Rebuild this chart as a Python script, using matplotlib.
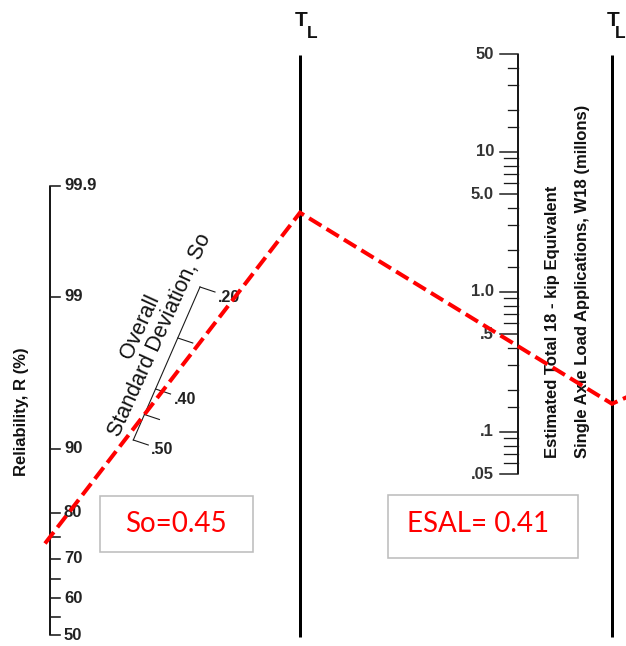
import matplotlib
matplotlib.use("Agg")
from statistics import NormalDist
import numpy as np
import matplotlib.pyplot as plt
from matplotlib.patches import Rectangle

# ---- scale values -------------------------------------------------------
R_LABELED = [50, 60, 70, 80, 90, 99, 99.9]
R_LABEL_TEXT = ["50", "60", "70", "80", "90", "99", "99.9"]
R_MINOR = [55, 65, 75]

SO_TICKS = [0.20, 0.30, 0.40, 0.45, 0.50]
SO_LABELED = [0.20, 0.40, 0.50]
SO_LABEL_TEXT = [".20", ".40", ".50"]

W18_LABELED = [50, 10, 5, 1, 0.5, 0.1, 0.05]
W18_LABEL_TEXT = ["50", "10", "5.0", "1.0", ".5", ".1", ".05"]
W18_DENSE = [9, 8, 7, 6, 0.9, 0.8, 0.7, 0.6, 0.09, 0.08, 0.07, 0.06]
W18_SPARSE = [40, 30, 20, 15, 4, 3, 2, 1.5, 0.4, 0.3, 0.2, 0.15]

# design inputs traced on the chart
R_DESIGN = 75
SO_DESIGN = 0.45
ESAL_DESIGN = 0.41

# ---- figure in pixel units ---------------------------------------------
W, H = 626, 646
fig = plt.figure(figsize=(W / 100, H / 100), dpi=100)
ax = fig.add_axes([0, 0, 1, 1])
ax.set_xlim(0, W)
ax.set_ylim(H, 0)
ax.axis("off")

PT = 0.72  # points per pixel at 100 dpi
NARROW = ["Liberation Sans Narrow", "Liberation Sans", "DejaVu Sans"]
INK = "#1a1a1a"

# layout of the nomograph scales
R_X, R_Y0, R_UNIT = 50, 635, 145.3
SO_TOP, SO_BOT = (200.0, 287.0), (133.3, 440.0)
TL1_X, TL2_X, TL_TOP, TL_BOT = 300, 612, 55, 637
W_X, W_Y1, W_DEC = 518, 292, 140


def r_y(r):
    return R_Y0 - R_UNIT * NormalDist().inv_cdf(r / 100.0)


def so_xy(s):
    t = (s - 0.20) / (0.50 - 0.20)
    return (SO_TOP[0] + t * (SO_BOT[0] - SO_TOP[0]),
            SO_TOP[1] + t * (SO_BOT[1] - SO_TOP[1]))


def w_y(w):
    return W_Y1 - W_DEC * np.log10(w)


# ---- reliability scale --------------------------------------------------
ax.plot([R_X, R_X], [r_y(99.9), r_y(50)], color=INK, lw=2 * PT,
        solid_capstyle="butt")
for r in R_LABELED + R_MINOR:
    y = r_y(r)
    ax.plot([R_X, R_X + 10], [y, y], color=INK, lw=1.6 * PT)
for r, s in zip(R_LABELED, R_LABEL_TEXT):
    ax.text(R_X + 14, r_y(r), s, ha="left", va="center", fontsize=12,
            fontweight="bold", family=NARROW, color="#222222")
ax.text(22, 412, "Reliability, R (%)", rotation=90, ha="center",
        va="center", fontsize=12, fontweight="bold", family=NARROW,
        color="#111111")

# ---- overall standard deviation scale -----------------------------------
p_top, p_bot = so_xy(0.20), so_xy(0.50)
ax.plot([p_top[0], p_bot[0]], [p_top[1], p_bot[1]], color=INK, lw=1.1 * PT)
for s in SO_TICKS:
    x, y = so_xy(s)
    ax.plot([x, x + 15], [y, y + 5], color=INK, lw=1.1 * PT)
for s, txt in zip(SO_LABELED, SO_LABEL_TEXT):
    x, y = so_xy(s)
    ax.text(x + 18, y + 10, txt, ha="left", va="center", fontsize=11.5,
            fontweight="bold", family=NARROW, color="#222222")
ax.text(150, 331, "Overall\nStandard Deviation, So", rotation=65.5,
        rotation_mode="anchor", ha="center", va="center",
        multialignment="center", fontsize=15.5, family=NARROW,
        color="#111111", linespacing=1.0)

# ---- turning lines T_L --------------------------------------------------
for x, dl in ((TL1_X, 12), (TL2_X, 8)):
    ax.plot([x, x], [TL_TOP, TL_BOT], color="black", lw=3 * PT,
            solid_capstyle="butt")
    ax.text(x + 1, 20, "T", ha="center", va="center", fontsize=15,
            fontweight="bold", family=NARROW, color="#111111")
    ax.text(x + dl, 34, "L", ha="center", va="center", fontsize=12.5,
            fontweight="bold", family=NARROW, color="#111111")

# ---- W18 scale ----------------------------------------------------------
ax.plot([W_X, W_X], [w_y(50), w_y(0.05)], color=INK, lw=2 * PT,
        solid_capstyle="butt")
for w in W18_LABELED:
    ax.plot([W_X - 18, W_X], [w_y(w), w_y(w)], color=INK, lw=1.5 * PT)
for w in W18_DENSE:
    ax.plot([W_X - 14, W_X], [w_y(w), w_y(w)], color=INK, lw=1.3 * PT)
for w in W18_SPARSE:
    ax.plot([W_X - 10, W_X], [w_y(w), w_y(w)], color=INK, lw=1.3 * PT)
for w, txt in zip(W18_LABELED, W18_LABEL_TEXT):
    ax.text(W_X - 24, w_y(w), txt, ha="right", va="center", fontsize=12,
            fontweight="bold", family=NARROW, color="#333333")
ax.text(553, 458, "Estimated Total 18 - kip Equivalent", rotation=90,
        rotation_mode="anchor", ha="left", va="center", fontsize=12,
        fontweight="bold", family=NARROW, color="#111111")
ax.text(582, 458, "Single Axle Load Applications, W18 (millons)",
        rotation=90, rotation_mode="anchor", ha="left", va="center",
        fontsize=12, fontweight="bold", family=NARROW, color="#111111")

# ---- design path (red dashed) -------------------------------------------
ax_r = (R_X, r_y(R_DESIGN))
ax_s = so_xy(SO_DESIGN)
k1 = (ax_s[1] - ax_r[1]) / (ax_s[0] - ax_r[0])
start = (R_X - 5, ax_r[1] - 5 * k1)
pivot = (TL1_X, ax_r[1] + k1 * (TL1_X - R_X))
ax_w = (W_X, w_y(ESAL_DESIGN))
k2 = (ax_w[1] - pivot[1]) / (ax_w[0] - pivot[0])
pivot2 = (TL2_X, pivot[1] + k2 * (TL2_X - TL1_X))
tail = (TL2_X + 30, pivot2[1] - 0.45 * 30)
px = [start[0], pivot[0], pivot2[0], tail[0]]
py = [start[1], pivot[1], pivot2[1], tail[1]]
ax.plot(px, py, color="#ff0000", lw=4 * PT, linestyle=(0, (3.6, 1.5)),
        solid_joinstyle="miter", dash_joinstyle="miter", zorder=5,
        clip_on=True)

# ---- value boxes --------------------------------------------------------
BOX_EDGE = "#bdbdbd"
ax.add_patch(Rectangle((100, 496), 153, 56, facecolor="white",
                       edgecolor=BOX_EDGE, lw=1.6 * PT, zorder=6))
ax.text(176, 524, f"So={SO_DESIGN:.2f}", ha="center", va="center",
        fontsize=20, family=["Lato", "DejaVu Sans"], color="#ff0000",
        zorder=7)
ax.add_patch(Rectangle((388, 495), 190, 63, facecolor="white",
                       edgecolor=BOX_EDGE, lw=1.6 * PT, zorder=6))
ax.text(478, 524, f"ESAL= {ESAL_DESIGN:.2f}", ha="center", va="center",
        fontsize=20, family=["Lato", "DejaVu Sans"], color="#ff0000",
        zorder=7)

fig.savefig("out.png", dpi=100, facecolor="white")
